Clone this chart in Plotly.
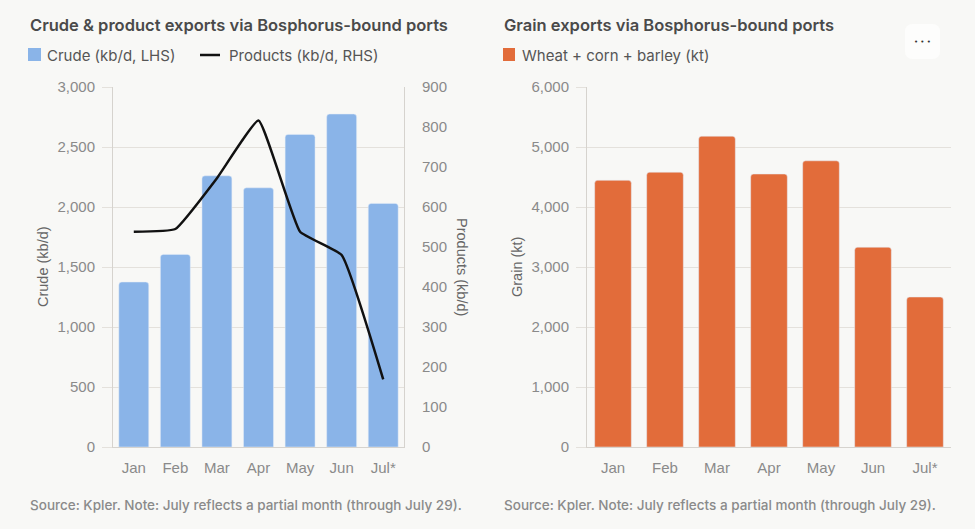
import plotly.graph_objects as go

# ---- data ----
months = ["Jan", "Feb", "Mar", "Apr", "May", "Jun", "Jul*"]
crude_kbd = [1375, 1605, 2260, 2160, 2605, 2775, 2030]
products_kbd = [538, 545, 672, 816, 538, 480, 169]
grain_kt = [4445, 4580, 5180, 4550, 4770, 3330, 2500]

title_left = "Crude & product exports via Bosphorus-bound ports"
title_right = "Grain exports via Bosphorus-bound ports"
legend_crude = "Crude (kb/d, LHS)"
legend_products = "Products (kb/d, RHS)"
legend_grain = "Wheat + corn + barley (kt)"
source_text = "Source: Kpler. Note: July reflects a partial month (through July 29)."

# ---- style ----
W, H = 975, 529
BG = "#f8f8f6"
BLUE = "#8ab4e8"
ORANGE = "#e26c3a"
GRID = "#e4e1dc"
AXIS = "#d6d3ce"
TICK_COLOR = "#8a8a8a"
TITLE_COLOR = "#4a4a4a"
TEXT_COLOR = "#555555"
TICK_FONT = dict(family="Liberation Sans, Arial, sans-serif", size=15, color=TICK_COLOR)


def px(x):
    return x / W


def py(y):
    return 1 - y / H


fig = go.Figure()

fig.add_trace(go.Bar(x=months, y=crude_kbd, name=legend_crude, marker_color=BLUE,
                     width=0.72, xaxis="x", yaxis="y", showlegend=False))
fig.add_trace(go.Scatter(x=months, y=products_kbd, name=legend_products, mode="lines",
                         line=dict(color="#111111", width=2.5, shape="spline", smoothing=0.35),
                         xaxis="x", yaxis="y2", showlegend=False))
fig.add_trace(go.Bar(x=months, y=grain_kt, name=legend_grain, marker_color=ORANGE,
                     width=0.705, xaxis="x2", yaxis="y3", showlegend=False))

ydom = [py(447), py(87)]

common_x = dict(type="category", showgrid=False, showline=True, linecolor=AXIS, linewidth=1,
                ticks="", tickfont=TICK_FONT, ticklabelstandoff=7, fixedrange=True,
                automargin=False)
common_y = dict(showgrid=True, gridcolor=GRID, gridwidth=1, zeroline=False,
                showline=True, linecolor=AXIS, linewidth=1, tickformat=",",
                tickfont=TICK_FONT, fixedrange=True, automargin=False)

fig.update_layout(
    width=W, height=H,
    margin=dict(l=0, r=0, t=0, b=0, pad=0, autoexpand=False),
    paper_bgcolor=BG, plot_bgcolor=BG,
    barcornerradius=3,
    showlegend=False,
    xaxis=dict(domain=[px(113), px(404)], anchor="y", **common_x),
    yaxis=dict(domain=ydom, anchor="x", range=[0, 3000], dtick=500,
               ticks="outside", ticklen=10, tickcolor=GRID, ticklabelstandoff=4, **common_y),
    yaxis2=dict(overlaying="y", side="right", anchor="x", range=[0, 900], dtick=100,
                showgrid=False, zeroline=False, showline=True, linecolor=AXIS, linewidth=1,
                ticks="", ticklabelstandoff=14, tickfont=TICK_FONT, fixedrange=True,
                automargin=False),
    xaxis2=dict(domain=[px(587), px(951)], anchor="y3", **common_x),
    yaxis3=dict(domain=ydom, anchor="x2", range=[0, 6000], dtick=1000,
                ticks="outside", ticklen=10, tickcolor=GRID, ticklabelstandoff=4, **common_y),
)

ann = []
title_font = dict(family="Inter, Noto Sans, sans-serif", size=16.5, color=TITLE_COLOR, weight=600)
leg_font = dict(family="Inter, Noto Sans, sans-serif", size=15, color=TEXT_COLOR)
ax_font = dict(family="Liberation Sans, Arial, sans-serif", size=14.5, color="#666666")
src_font = dict(family="Inter, Noto Sans, sans-serif", size=13.5, color="#8a8a8a", weight=500)

ann.append(dict(text=title_left, x=px(28), y=py(25), xanchor="left", yanchor="middle",
                font=title_font))
ann.append(dict(text=title_right, x=px(502), y=py(25), xanchor="left", yanchor="middle",
                font=title_font))
ann.append(dict(text=legend_crude, x=px(45), y=py(55), xanchor="left", yanchor="middle",
                font=leg_font))
ann.append(dict(text=legend_products, x=px(227), y=py(55), xanchor="left", yanchor="middle",
                font=leg_font))
ann.append(dict(text=legend_grain, x=px(520), y=py(55), xanchor="left", yanchor="middle",
                font=leg_font))
ann.append(dict(text="Crude (kb/d)", x=px(43), y=py(267), xanchor="center", yanchor="middle",
                textangle=-90, font=ax_font))
ann.append(dict(text="Products (kb/d)", x=px(462), y=py(267), xanchor="center", yanchor="middle",
                textangle=90, font=ax_font))
ann.append(dict(text="Grain (kt)", x=px(517), y=py(267), xanchor="center", yanchor="middle",
                textangle=-90, font=ax_font))
ann.append(dict(text=source_text, x=px(28), y=py(505), xanchor="left", yanchor="middle",
                font=src_font))
ann.append(dict(text=source_text, x=px(502), y=py(505), xanchor="left", yanchor="middle",
                font=src_font))
ann.append(dict(text="• • •", x=px(922.5), y=py(42), xanchor="center", yanchor="middle",
                font=dict(family="DejaVu Sans, sans-serif", size=7, color="#333333")))
for a in ann:
    a.update(xref="paper", yref="paper", showarrow=False)
fig.update_layout(annotations=ann)

shapes = [
    dict(type="rect", x0=px(28), x1=px(41), y0=py(61), y1=py(48), fillcolor=BLUE,
         line=dict(width=0)),
    dict(type="line", x0=px(200), x1=px(220), y0=py(55), y1=py(55),
         line=dict(color="#111111", width=2.5)),
    dict(type="rect", x0=px(503), x1=px(515), y0=py(61), y1=py(48), fillcolor=ORANGE,
         line=dict(width=0)),
]
# rounded "..." menu button
x0, x1, y0, y1, r = 905, 940, 24, 59, 8
path = (f"M {px(x0 + r)},{py(y0)} L {px(x1 - r)},{py(y0)} "
        f"Q {px(x1)},{py(y0)} {px(x1)},{py(y0 + r)} L {px(x1)},{py(y1 - r)} "
        f"Q {px(x1)},{py(y1)} {px(x1 - r)},{py(y1)} L {px(x0 + r)},{py(y1)} "
        f"Q {px(x0)},{py(y1)} {px(x0)},{py(y1 - r)} L {px(x0)},{py(y0 + r)} "
        f"Q {px(x0)},{py(y0)} {px(x0 + r)},{py(y0)} Z")
shapes.append(dict(type="path", path=path, fillcolor="#fdfdfc", line=dict(width=0), layer="below"))
for s in shapes:
    s.update(xref="paper", yref="paper")
fig.update_layout(shapes=shapes)

fig.write_html("out.html", config={"displayModeBar": False})
